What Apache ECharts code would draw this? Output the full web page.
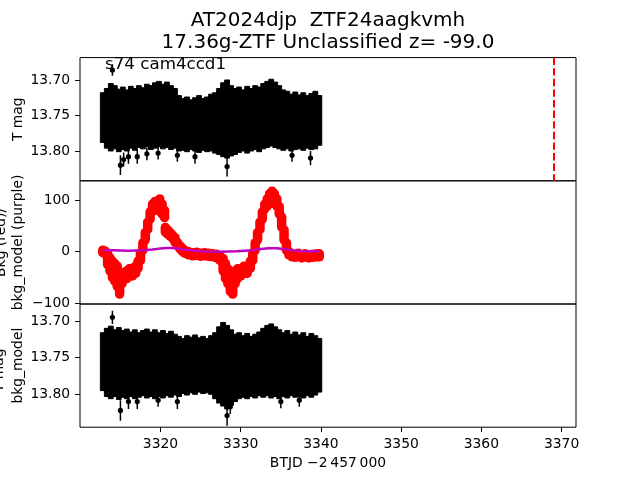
<!DOCTYPE html>
<html><head><meta charset="utf-8">
<script src="https://cdn.jsdelivr.net/npm/echarts/dist/echarts.min.js"></script>
<style>html,body{margin:0;padding:0;background:#fff}#c{width:640px;height:480px}</style>
</head><body><div id="c"></div>
<script>
// ---- data ----
const times = [3312.8,3313.3,3313.8,3314.3,3314.8,3315.3,3315.8,3316.3,3316.8,3317.3,3317.8,3318.3,3318.8,3319.3,3319.8,3320.3,3320.8,3321.3,3321.8,3322.3,3322.8,3323.3,3323.8,3324.3,3324.8,3325.3,3325.8,3326.3,3326.8,3327.3,3327.8,3328.3,3328.8,3329.3,3329.8,3330.3,3330.8,3331.3,3331.8,3332.3,3332.8,3333.3,3333.8,3334.3,3334.8,3335.3,3335.8,3336.3,3336.8,3337.3,3337.8,3338.3,3338.8,3339.3,3339.8];
// top panel: T mag envelope (bright edge / faint edge)
const topHi = [13.718,13.712,13.705,13.708,13.713,13.710,13.714,13.709,13.712,13.708,13.711,13.706,13.708,13.704,13.702,13.706,13.703,13.708,13.712,13.722,13.726,13.724,13.728,13.725,13.722,13.726,13.724,13.720,13.718,13.712,13.704,13.700,13.708,13.712,13.710,13.714,13.709,13.712,13.708,13.710,13.705,13.702,13.699,13.703,13.708,13.714,13.716,13.720,13.717,13.721,13.718,13.722,13.719,13.716,13.722];
const topLo = [13.788,13.796,13.800,13.797,13.801,13.798,13.800,13.796,13.799,13.795,13.797,13.794,13.798,13.796,13.794,13.797,13.795,13.798,13.796,13.800,13.799,13.801,13.798,13.800,13.802,13.799,13.801,13.800,13.803,13.805,13.808,13.810,13.807,13.805,13.802,13.800,13.803,13.800,13.798,13.801,13.797,13.795,13.793,13.795,13.797,13.799,13.797,13.800,13.798,13.797,13.799,13.796,13.798,13.797,13.792];
const topOutT = [3314.0,3315.0,3315.4,3316.0,3317.1,3318.3,3319.7,3322.1,3324.3,3328.3,3336.4,3338.7];
const topOutM = [13.686,13.820,13.812,13.808,13.808,13.804,13.803,13.806,13.808,13.822,13.806,13.810];
const topOutE = [0.008,0.014,0.010,0.010,0.010,0.009,0.009,0.009,0.010,0.014,0.009,0.010];
// bottom panel: T mag - bkg_model envelope
const botHi = [13.716,13.710,13.707,13.712,13.709,13.713,13.711,13.715,13.712,13.716,13.713,13.711,13.715,13.712,13.716,13.713,13.717,13.714,13.718,13.721,13.724,13.720,13.722,13.719,13.723,13.721,13.724,13.720,13.716,13.708,13.702,13.706,13.712,13.718,13.716,13.720,13.717,13.721,13.718,13.715,13.710,13.706,13.704,13.708,13.712,13.716,13.713,13.718,13.715,13.719,13.716,13.721,13.717,13.720,13.724];
const botLo = [13.795,13.803,13.806,13.803,13.807,13.804,13.806,13.803,13.806,13.804,13.802,13.805,13.803,13.806,13.803,13.805,13.802,13.804,13.801,13.803,13.799,13.801,13.798,13.800,13.797,13.799,13.798,13.800,13.806,13.812,13.816,13.820,13.815,13.810,13.806,13.804,13.806,13.803,13.805,13.802,13.804,13.802,13.805,13.803,13.806,13.803,13.805,13.802,13.804,13.803,13.805,13.802,13.804,13.801,13.797];
const botOutT = [3314.0,3315.0,3316.0,3317.1,3319.7,3322.1,3328.3,3328.7,3335.0,3337.3];
const botOutM = [13.695,13.822,13.810,13.810,13.808,13.810,13.829,13.817,13.810,13.808];
const botOutE = [0.009,0.014,0.010,0.010,0.009,0.010,0.014,0.010,0.009,0.009];
// middle panel: background (red) spread and model (purple)
const bkgT  = [3312.8,3313.1,3313.4,3313.7,3314.0,3314.3,3314.6,3314.9,3315.2,3315.5,3315.8,3316.1,3316.5,3316.9,3317.2,3317.5,3317.8,3318.1,3318.4,3318.7,3319.0,3319.3,3319.6,3319.9,3320.2,3320.5,3320.6,3320.9,3321.2,3321.5,3321.8,3322.1,3322.4,3322.7,3323.0,3323.5,3324.0,3324.5,3325.0,3325.5,3326.0,3326.5,3327.0,3327.4,3327.8,3328.1,3328.4,3328.7,3329.0,3329.3,3329.6,3330.0,3330.4,3330.8,3331.2,3331.5,3331.8,3332.1,3332.4,3332.7,3333.0,3333.3,3333.6,3333.9,3334.2,3334.5,3334.8,3335.1,3335.4,3335.7,3336.0,3336.4,3336.8,3337.2,3337.6,3338.0,3338.5,3339.0,3339.5,3339.8];
const bkgLo = [-2,-4,-25,-37,-50,-57,-67,-82,-62,-52,-52,-47,-47,-42,-32,-17,3,23,43,63,78,83,83,78,73,66,38,34,30,26,18,12,6,1,-3,-6,-8,-7,-9,-8,-9,-10,-12,-17,-37,-52,-62,-77,-82,-62,-52,-47,-42,-42,-32,-17,3,23,43,63,83,88,93,98,93,88,73,48,23,3,-6,-10,-11,-9,-12,-10,-12,-11,-10,-10];
const bkgHi = [3,1,-3,-12,-18,-23,-28,-43,-42,-40,-37,-33,-32,-28,-18,-3,17,37,57,77,92,97,97,102,92,80,47,42,37,32,27,18,12,7,3,0,-2,-1,-3,-2,-3,-4,-5,-8,-13,-23,-33,-38,-43,-38,-33,-33,-28,-28,-18,-3,17,37,57,77,92,102,112,117,112,102,87,67,42,17,0,-4,-5,-3,-6,-4,-6,-5,-4,-4];
const modelT = [3312.8,3314,3315,3316,3317,3318,3319,3320,3320.8,3321.5,3322.5,3323.5,3324.5,3325.5,3326.5,3327.5,3328.5,3329.5,3330.5,3331.5,3332.5,3333.5,3334.5,3335.5,3336.5,3337.5,3338.5,3339.8];
const modelV = [3,3,2.5,2,2.5,3,4,6,7,7,5,3,1.5,0.5,0,0,0.5,1,2,3,5,6.5,6.5,4.5,2.5,1.5,1,1];
const vlineT = 3369.0;
const xTicks = [3320,3330,3340,3350,3360,3370];
const magTicks = [13.70,13.75,13.80];
const bkgTicks = [-100,0,100];

// ---- chart ----
const FONT = 'DejaVu Sans';
const chart = echarts.init(document.getElementById('c'));
const X_MIN = 3309.96, X_MAX = 3371.8;
const gridTops = [57.6, 180.8, 304];
const grids = gridTops.map(t => ({left:80, width:496, top:t, height:123.2, show:true, borderColor:'#000', borderWidth:1, backgroundColor:'transparent'}));
const tickStyle = {length:4.9, lineStyle:{color:'#000', width:1}};
const labelStyle = {color:'#000', fontFamily:FONT, fontSize:13.9, margin:9.8};
const xAxes = [0,1,2].map(i => ({
  type:'value', gridIndex:i, min:X_MIN, max:X_MAX,
  axisLine:{show:false}, splitLine:{show:false},
  axisTick:Object.assign({show:i===2, customValues:xTicks}, tickStyle),
  axisLabel:Object.assign({show:i===2, customValues:xTicks, formatter:v=>String(v)}, labelStyle)
}));
const magFmt = v => v.toFixed(2);
const yAxes = [
  {type:'value', gridIndex:0, min:13.6685, max:13.842, inverse:true,
   axisTick:Object.assign({customValues:magTicks}, tickStyle),
   axisLabel:Object.assign({customValues:magTicks, formatter:magFmt}, labelStyle)},
  {type:'value', gridIndex:1, min:-101.2, max:137.1,
   axisTick:Object.assign({customValues:bkgTicks}, tickStyle),
   axisLabel:Object.assign({customValues:bkgTicks, formatter:v => v<0 ? '\u2212'+Math.abs(v) : String(v)}, labelStyle)},
  {type:'value', gridIndex:2, min:13.6768, max:13.8449, inverse:true,
   axisTick:Object.assign({customValues:magTicks}, tickStyle),
   axisLabel:Object.assign({customValues:magTicks, formatter:magFmt}, labelStyle)}
].map(a => Object.assign(a, {axisLine:{show:false}, splitLine:{show:false}}));

function bandItem(halfW){
  return (params, api) => {
    const t = api.value(0), a = api.value(1), b = api.value(2);
    const p1 = api.coord([t - halfW, a]), p2 = api.coord([t + halfW, b]);
    return {type:'rect', shape:{x:Math.min(p1[0],p2[0]), y:Math.min(p1[1],p2[1]), width:Math.abs(p2[0]-p1[0]), height:Math.abs(p2[1]-p1[1])},
            style:{fill:'#000', stroke:'#000', lineWidth:1}};
  };
}
function errItem(params, api){
  const t = api.value(0), m = api.value(1), e = api.value(2);
  const c = api.coord([t,m]), a = api.coord([t,m-e]), b = api.coord([t,m+e]);
  return {type:'group', children:[
    {type:'line', shape:{x1:a[0],y1:a[1],x2:b[0],y2:b[1]}, style:{stroke:'#000', lineWidth:1.5}},
    {type:'circle', shape:{cx:c[0], cy:c[1], r:2.6}, style:{fill:'#000'}}
  ]};
}
function redItem(params, api){
  const t = api.value(0);
  const p1 = api.coord([t, api.value(1)]), p2 = api.coord([t, api.value(2)]);
  return {type:'line', shape:{x1:p1[0], y1:p1[1], x2:p2[0], y2:p2[1]+0.01}, style:{stroke:'#ff0000', lineWidth:9.5, lineCap:'round'}};
}

const series = [
  {type:'custom', xAxisIndex:0, yAxisIndex:0, renderItem:bandItem(0.3), clip:true,
   encode:{x:0, y:[1,2]}, data:times.map((t,i)=>[t, topHi[i], topLo[i]])},
  {type:'custom', xAxisIndex:0, yAxisIndex:0, renderItem:errItem, clip:true,
   encode:{x:0, y:1}, data:topOutT.map((t,i)=>[t, topOutM[i], topOutE[i]])},
  {type:'line', xAxisIndex:0, yAxisIndex:0, data:[], silent:true,
   markLine:{silent:true, symbol:['none','none'], label:{show:false}, animation:false,
     lineStyle:{color:'#ff0000', width:2, type:[7.4,3.2]}, data:[{xAxis:vlineT}]}},
  {type:'custom', xAxisIndex:1, yAxisIndex:1, renderItem:redItem, clip:true,
   encode:{x:0, y:[1,2]}, data:bkgT.map((t,i)=>[t, bkgLo[i], bkgHi[i]])},
  {type:'line', xAxisIndex:1, yAxisIndex:1, showSymbol:false, z:5,
   lineStyle:{color:'#bf00bf', width:2.5}, data:modelT.map((t,i)=>[t, modelV[i]])},
  {type:'custom', xAxisIndex:2, yAxisIndex:2, renderItem:bandItem(0.3), clip:true,
   encode:{x:0, y:[1,2]}, data:times.map((t,i)=>[t, botHi[i], botLo[i]])},
  {type:'custom', xAxisIndex:2, yAxisIndex:2, renderItem:errItem, clip:true,
   encode:{x:0, y:1}, data:botOutT.map((t,i)=>[t, botOutM[i], botOutE[i]])}
];

const txt = (text, x, y, size, extra) => Object.assign({type:'text', x:x, y:y, silent:true,
  style:{text:text, fontFamily:FONT, fontSize:size, fill:'#000', align:'center', verticalAlign:'middle', textAlign:'center', textVerticalAlign:'middle'}}, extra||{});
const graphic = [
  txt('AT2024djp  ZTF24aagkvmh', 328, 21, 20),
  txt('17.36g-ZTF Unclassified z= -99.0', 328, 43, 20),
  (function(){ const g = txt('s74 cam4ccd1', 105, 65, 16.7); g.style.align='left'; g.style.textAlign='left'; return g; })(),
  txt('BTJD \u22122\u2009457\u2009000', 328, 463, 13.9),
  txt('T mag', 18, 119.2, 13.9, {rotation:Math.PI/2}),
  (function(){ const g = txt('Bkg (red)/\nbkg_model (purple)', 10.3, 242.4, 13.9, {rotation:Math.PI/2}); g.style.lineHeight=17; return g; })(),
  (function(){ const g = txt('T mag -\nbkg_model', 9, 365.6, 13.9, {rotation:Math.PI/2}); g.style.lineHeight=19; return g; })()
];

chart.setOption({animation:false, grid:grids, xAxis:xAxes, yAxis:yAxes, series:series, graphic:graphic});
</script></body></html>
